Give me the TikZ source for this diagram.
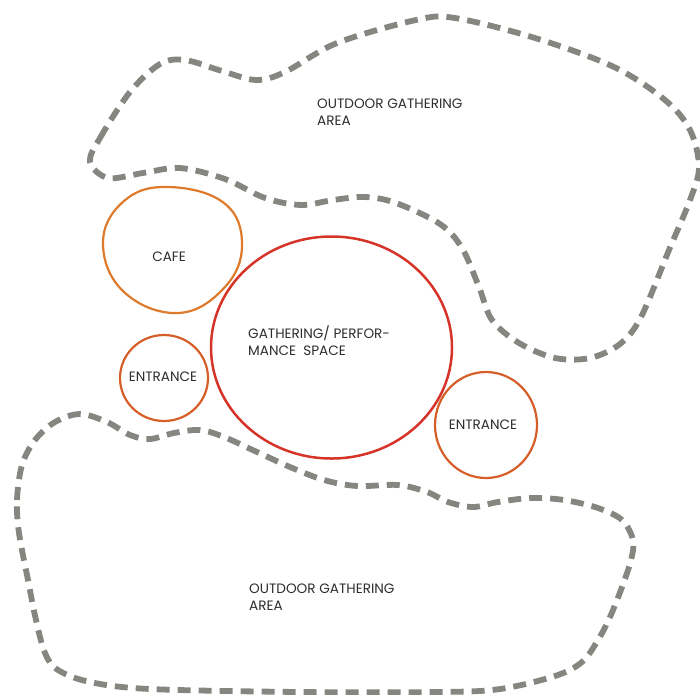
\documentclass[tikz,border=0pt]{standalone}
\usepackage{fontspec}
\setmainfont{Poppins}
\usetikzlibrary{shapes.geometric}
\definecolor{dashgray}{RGB}{134,134,128}
\definecolor{cafeor}{RGB}{222,122,44}
\definecolor{entor}{RGB}{214,94,40}
\definecolor{gathred}{RGB}{214,52,40}
\definecolor{txt}{RGB}{45,45,45}
\tikzset{
  zone/.style={draw=dashgray, line width=5.8pt, dash pattern=on 13pt off 8pt},
  room/.style={draw, line width=2.2pt, inner sep=0pt},
  lbl/.style={text=txt, font=\fontsize{13.6}{17}\selectfont, inner sep=0pt},
}
\begin{document}
\begin{tikzpicture}[x=1pt,y=-1pt]
\useasboundingbox (0,0) rectangle (700,694);
% top outdoor zone
\draw[zone] plot[smooth cycle, tension=0.55] coordinates {
(90,162) (100,138) (130,92) (160,64) (185,60) (222,71) (256,80) (285,72) (337,43)
(416,20) (455,18) (535,38) (614,67) (665,100) (690,130) (699,167) (690,200)
(669,250) (641,317) (620,344) (590,358) (555,358) (519,343) (492,320) (479,287)
(462,248) (440,224) (396,203) (365,197) (333,200) (301,205) (265,198) (225,179)
(180,168) (143,173) (108,178)};
% bottom outdoor zone
\draw[zone] plot[smooth cycle, tension=0.55] coordinates {
(19,533) (17,500) (22,465) (35,440) (55,422) (80,414) (107,422) (130,435)
(150,439) (174,433) (200,430) (224,437) (257,452) (290,467) (324,480) (357,486)
(398,485) (427,492) (448,502) (473,507) (498,502) (531,498) (564,500) (598,508)
(622,520) (633,540) (631,560) (622,587) (610,617) (598,640) (582,662) (555,676)
(500,689) (440,692) (300,692) (150,689) (90,682) (58,670) (45,653) (36,620) (28,580)};
% cafe
\draw[draw=cafeor, line width=2.2pt] plot[smooth cycle, tension=0.7] coordinates {
(168,187) (224,203) (242,245) (224,288) (178,313) (124,292) (103,243) (124,201)};
% rooms
\node[room, draw=gathred, ellipse, minimum width=241pt, minimum height=222pt, line width=2.5pt] (gath) at (331.5,347.5) {};
\node[room, draw=entor, ellipse, minimum width=88pt, minimum height=86pt] (entl) at (164,378) {};
\node[room, draw=entor, ellipse, minimum width=102pt, minimum height=106pt] (entr) at (486,425) {};
% labels
\node[lbl, anchor=center] (tcafe) at (169,257) {CAFE};
\node[lbl, anchor=center] (tentl) at (163,377) {ENTRANCE};
\node[lbl, anchor=center] (tentr) at (483,425) {ENTRANCE};
\node[lbl, anchor=north west, align=left] (tgath) at (248,325) {GATHERING/ PERFOR-\\MANCE\ \ SPACE};
\node[lbl, anchor=north west, align=left] (ttop) at (317,99) {OUTDOOR GATHERING\\AREA};
\node[lbl, anchor=north west, align=left] (tbot) at (249,584) {OUTDOOR GATHERING\\AREA};
\end{tikzpicture}
\end{document}
